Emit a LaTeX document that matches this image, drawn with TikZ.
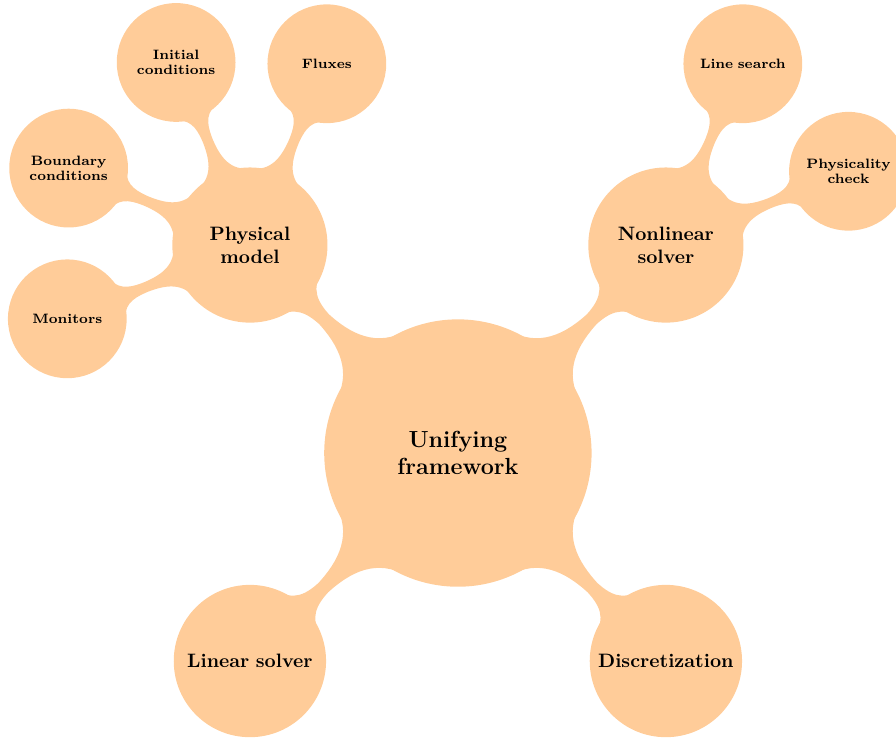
\documentclass[tikz,border=0pt]{standalone}
\usetikzlibrary{mindmap}
\begin{document}
\begin{tikzpicture}[mindmap, concept color=orange!40,
  every node/.style={concept},
  root concept/.append style={minimum size=136.6pt, text width=100pt, font=\large\bfseries},
  level 1/.append style={level distance=151.6pt, sibling angle=90},
  level 1 concept/.append style={minimum size=77.3pt, text width=74pt, font=\bfseries},
  level 2/.append style={level distance=101.5pt, sibling angle=45},
  level 2 concept/.append style={minimum size=60pt, text width=52pt, font=\scriptsize\bfseries}]
\useasboundingbox (-236pt,-148pt) rectangle (225.8pt,233.5pt);
\node[root concept] (root) at (0,0) {Unifying framework}
  child[grow=135] {node (pm) {Physical model}
    child[grow=112.5] {node (ic) {Initial conditions}}
    child[grow=67.5] {node (fx) {Fluxes}}
    child[grow=157.5] {node (bc) {Boundary conditions}}
    child[grow=202.5] {node (mo) {Monitors}}
  }
  child[grow=45] {node (ns) {Nonlinear solver}
    child[grow=67.5] {node (ls) {Line search}}
    child[grow=22.5] {node (pc) {Physicality check}}
  }
  child[grow=225] {node (lin) {Linear solver}}
  child[grow=315] {node (di) {Discretization}};
\end{tikzpicture}
\end{document}
